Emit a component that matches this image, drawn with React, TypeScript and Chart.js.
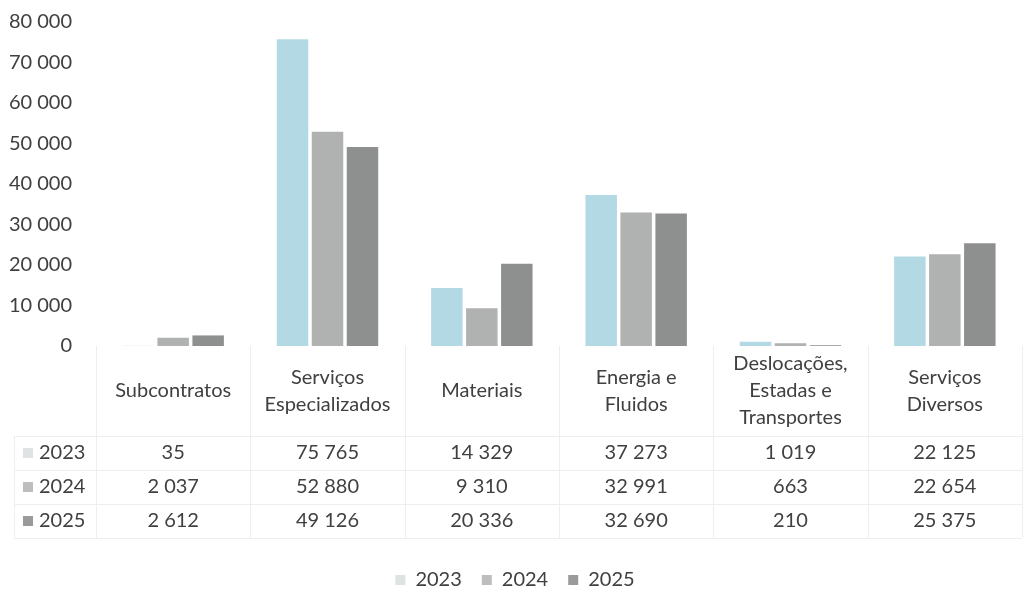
import React, { useEffect, useRef } from "react";
import { Chart, registerables } from "chart.js";

Chart.register(...registerables);

const categories: string[][] = [
  ["Subcontratos"],
  ["Serviços", "Especializados"],
  ["Materiais"],
  ["Energia e", "Fluidos"],
  ["Deslocações,", "Estadas e", "Transportes"],
  ["Serviços", "Diversos"],
];
const seriesNames = ["2023", "2024", "2025"];
const values2023 = [35, 75765, 14329, 37273, 1019, 22125];
const values2024 = [2037, 52880, 9310, 32991, 663, 22654];
const values2025 = [2612, 49126, 20336, 32690, 210, 25375];
const seriesColors = ["#b3d9e4", "#b0b1b1", "#8e9090"];
const legendColors = ["#dfe3e3", "#bdbdbd", "#9a9a9a"];

const FONT = "Lato, 'Open Sans', sans-serif";
const FONT_SIZE = 20;
const TEXT = "#404040";
const LINE = "#eeeeee";

const fmt = (v: number) => String(v).replace(/\B(?=(\d{3})+(?!\d))/g, " ");

const tablePlugin = {
  id: "dataTable",
  afterDraw(chart: any) {
    const ctx = chart.ctx as CanvasRenderingContext2D;
    const x = chart.scales.x;
    const area = chart.chartArea;
    const n = categories.length;
    const colW = (area.right - area.left) / n;
    const top = area.bottom;
    const headerBottom = top + 90;
    const rowH = 34;
    const tableBottom = headerBottom + rowH * 3;
    const leftCol = 14;
    const series = [values2023, values2024, values2025];

    ctx.save();
    ctx.strokeStyle = LINE;
    ctx.lineWidth = 1;
    ctx.beginPath();
    for (let i = 0; i <= n; i++) {
      const xx = Math.round(area.left + colW * i) + 0.5;
      ctx.moveTo(xx, top);
      ctx.lineTo(xx, tableBottom);
    }
    ctx.moveTo(leftCol + 0.5, headerBottom);
    ctx.lineTo(leftCol + 0.5, tableBottom);
    for (let r = 0; r <= 3; r++) {
      const yy = Math.round(headerBottom + rowH * r) + 0.5;
      ctx.moveTo(leftCol, yy);
      ctx.lineTo(area.right, yy);
    }
    ctx.stroke();

    ctx.fillStyle = TEXT;
    ctx.font = `${FONT_SIZE}px ${FONT}`;
    ctx.textAlign = "center";
    ctx.textBaseline = "middle";
    const lh = 27;
    const hc = (top + headerBottom) / 2;
    categories.forEach((lines, i) => {
      const cx = x.getPixelForValue(i);
      const start = hc - ((lines.length - 1) * lh) / 2;
      lines.forEach((t, k) => ctx.fillText(t, cx, start + k * lh));
    });
    series.forEach((vals, r) => {
      const cy = headerBottom + rowH * r + rowH / 2;
      vals.forEach((v, i) => {
        ctx.fillText(fmt(v), x.getPixelForValue(i), cy);
      });
      ctx.fillStyle = legendColors[r];
      ctx.fillRect(23, cy - 5, 10, 10);
      ctx.fillStyle = TEXT;
      ctx.textAlign = "left";
      ctx.fillText(seriesNames[r], 39, cy);
      ctx.textAlign = "center";
    });
    ctx.restore();
  },
};

export default function App() {
  const ref = useRef<HTMLCanvasElement | null>(null);
  useEffect(() => {
    if (!ref.current) return;
    const chart = new Chart(ref.current, {
      type: "bar",
      data: {
        labels: categories.map((c) => c.join(" ")),
        datasets: [values2023, values2024, values2025].map((d, i) => ({
          label: seriesNames[i],
          data: d,
          backgroundColor: seriesColors[i],
          borderWidth: 0,
          categoryPercentage: 0.68,
          barPercentage: 0.9,
        })),
      },
      options: {
        animation: false,
        responsive: true,
        maintainAspectRatio: false,
        layout: { padding: { left: 8, right: 11, top: 22, bottom: 8 } },
        plugins: {
          tooltip: { enabled: false },
          legend: {
            position: "bottom",
            labels: {
              font: { family: FONT, size: FONT_SIZE },
              color: TEXT,
              boxWidth: 10,
              boxHeight: 10,
              padding: 20,
              generateLabels: () =>
                seriesNames.map((s, i) => ({
                  text: s,
                  fillStyle: legendColors[i],
                  strokeStyle: legendColors[i],
                  lineWidth: 0,
                  hidden: false,
                  datasetIndex: i,
                  fontColor: TEXT,
                })),
            },
          },
        },
        scales: {
          x: {
            grid: { display: false },
            border: { display: false },
            ticks: { display: false },
            afterFit: (scale: any) => {
              scale.height = 204;
            },
          },
          y: {
            min: 0,
            max: 80000,
            grid: { display: false, drawTicks: false },
            border: { display: false },
            ticks: {
              stepSize: 10000,
              padding: 24,
              color: TEXT,
              font: { family: FONT, size: FONT_SIZE },
              callback: (v: any) => fmt(Number(v)),
            },
            afterFit: (scale: any) => {
              scale.width = 88;
              scale.paddingTop = 0;
              scale.paddingBottom = 0;
            },
          },
        },
      },
      plugins: [tablePlugin],
    });
    return () => chart.destroy();
  }, []);
  return (
    <div style={{ position: "fixed", left: 0, top: 0, width: 1033, height: 608, background: "#fff" }}>
      <canvas ref={ref} />
    </div>
  );
}
